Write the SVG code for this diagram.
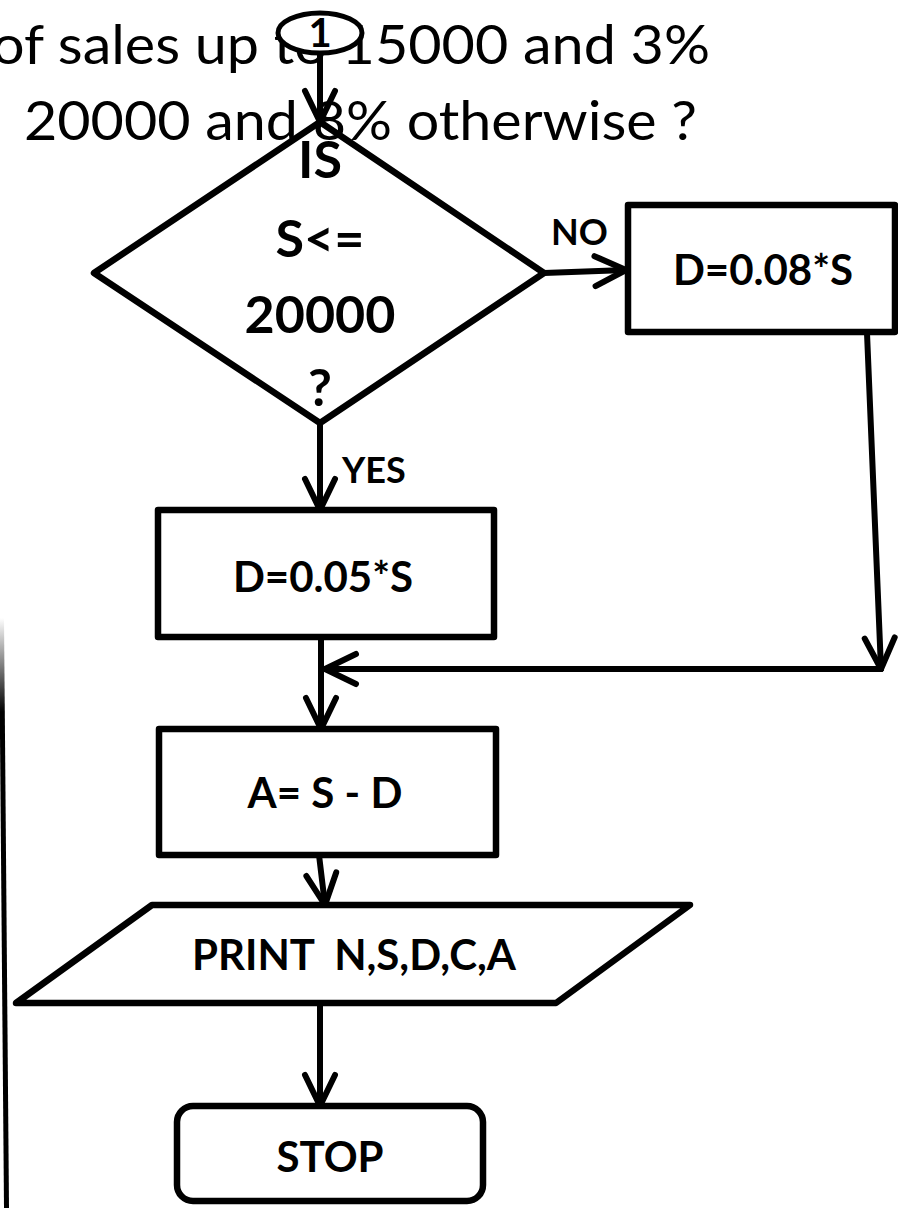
<svg xmlns="http://www.w3.org/2000/svg" width="898" height="1208" viewBox="0 0 898 1208">
<style>
.shape{fill:#fff;stroke:#000;stroke-width:6.5;stroke-linejoin:round}
.conn{fill:none;stroke:#000;stroke-width:6;stroke-linecap:round}
.title{font-family:Lato,"Liberation Sans",sans-serif;font-size:55px;fill:#000}
.lbl{font-family:Lato,"Liberation Sans",sans-serif;font-weight:bold;fill:#000;text-anchor:middle}
.edge{font-family:Lato,"Liberation Sans",sans-serif;font-weight:bold;font-size:36px;fill:#000}
</style>
<defs>
<marker id="arr" markerUnits="userSpaceOnUse" viewBox="-40 -20 46 40" refX="0" refY="0" markerWidth="46" markerHeight="40" orient="auto" overflow="visible">
<path d="M-31,-15 L0,0 L-31,15" fill="none" stroke="#000" stroke-width="6" stroke-linecap="round" stroke-linejoin="round"/>
</marker>
<linearGradient id="fade" gradientUnits="userSpaceOnUse" x1="0" y1="618" x2="0" y2="712">
<stop offset="0" stop-color="#fff"/>
<stop offset="1" stop-color="#000"/>
</linearGradient>
</defs>
<rect width="898" height="1208" fill="#fff"/>
<g id="title">
<text class="title" x="-8" y="64" textLength="718" lengthAdjust="spacingAndGlyphs">of sales up to 15000 and 3%</text>
<text class="title" x="24" y="140" textLength="673" lengthAdjust="spacingAndGlyphs">20000 and 8% otherwise ?</text>
</g>
<g id="left-bar">
<line x1="1.5" y1="618" x2="6.5" y2="1208" stroke="url(#fade)" stroke-width="5"/>
</g>
<g id="connectors">
<line class="conn" x1="320" y1="54" x2="320" y2="122" marker-end="url(#arr)"/>
<line class="conn" x1="544" y1="273" x2="626" y2="270" marker-end="url(#arr)"/>
<line class="conn" x1="320" y1="423" x2="320" y2="510" marker-end="url(#arr)"/>
<line class="conn" x1="867" y1="333" x2="881" y2="669" marker-end="url(#arr)"/>
<line class="conn" x1="881" y1="669" x2="325" y2="669" marker-end="url(#arr)"/>
<line class="conn" x1="321" y1="637" x2="321" y2="729" marker-end="url(#arr)"/>
<line class="conn" x1="319" y1="855" x2="325" y2="905" marker-end="url(#arr)"/>
<line class="conn" x1="320" y1="1003" x2="320" y2="1106" marker-end="url(#arr)"/>
<text class="edge" x="551" y="245">NO</text>
<text class="edge" x="342" y="483">YES</text>
</g>
<g id="connector-1">
<ellipse cx="320" cy="33" rx="42" ry="20" fill="#fff" stroke="#000" stroke-width="5"/>
<text class="lbl" x="320" y="47" font-size="40">1</text>
</g>
<g id="decision">
<polygon points="320,122 544,273 320,423 94,273" fill="none" stroke="#000" stroke-width="6.5" stroke-linejoin="round"/>
<text class="lbl" x="320" y="178" font-size="52">IS</text>
<text class="lbl" x="320" y="257" font-size="52">S&lt;=</text>
<text class="lbl" x="320" y="333" font-size="52">20000</text>
<text class="lbl" x="320" y="406" font-size="52">?</text>
</g>
<g id="d08">
<rect class="shape" x="628" y="205" width="267" height="127"/>
<text class="lbl" x="763" y="285" font-size="42">D=0.08*S</text>
</g>
<g id="d05">
<rect class="shape" x="158" y="510" width="336" height="127"/>
<text class="lbl" x="323" y="592" font-size="42">D=0.05*S</text>
</g>
<g id="amount">
<rect class="shape" x="159" y="729" width="337" height="126"/>
<text class="lbl" x="325" y="808" font-size="42">A= S - D</text>
</g>
<g id="print">
<polygon class="shape" points="152,905 690,905 556,1003 16,1003"/>
<text class="lbl" x="354" y="970" font-size="42" style="white-space:pre">PRINT  N,S,D,C,A</text>
</g>
<g id="stop">
<rect class="shape" x="177" y="1106" width="306" height="95" rx="16"/>
<text class="lbl" x="330" y="1172" font-size="42">STOP</text>
</g>
</svg>
